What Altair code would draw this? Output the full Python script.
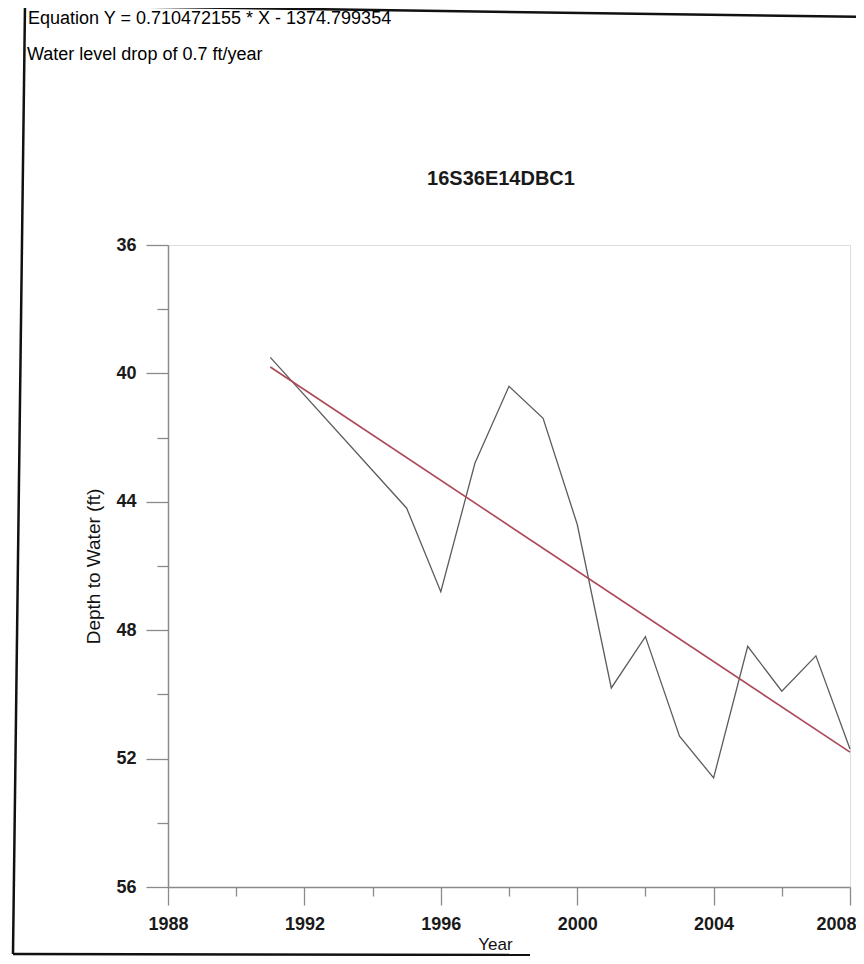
import altair as alt
import pandas as pd

# Observed depth to water (ft) by year
years = [1991, 1995, 1996, 1997, 1998, 1999, 2000, 2001, 2002, 2003, 2004, 2005, 2006, 2007, 2008]
depth = [39.5, 44.2, 46.8, 42.8, 40.4, 41.4, 44.7, 49.8, 48.2, 51.3, 52.6, 48.5, 49.9, 48.8, 51.7]

# Regression line end points
fit_years = [1991, 2008]
fit_depth = [39.8, 51.8]

x_ticks = list(range(1988, 2009, 2))
y_ticks = list(range(36, 57, 2))

title_text = "16S36E14DBC1"
header_lines = ["Equation Y = 0.710472155 * X - 1374.799354", "Water level drop of 0.7 ft/year"]

FONT = "Liberation Sans"
W, H = 682, 642

obs = pd.DataFrame({"Year": years, "Depth": depth})
fit = pd.DataFrame({"Year": fit_years, "Depth": fit_depth})

xscale = alt.Scale(domain=[1988, 2008], nice=False, zero=False)
yscale = alt.Scale(domain=[36, 56], nice=False, zero=False, reverse=True)

xaxis = alt.Axis(
    values=x_ticks, format="d", labelFlush=False, labelOverlap=False,
    labelExpr="datum.value % 4 == 0 ? datum.value : ''",
    labelOffset={"condition": {"test": "datum.value == 2008", "value": -14}, "value": 0},
    tickSize={"condition": {"test": "datum.value % 4 == 0", "value": 18}, "value": 9},
    labelPadding=10, labelFontSize=18, labelFont=FONT, labelFontWeight="bold", labelColor="#1a1a1a",
    title="Year", titleFont=FONT, titleFontSize=17, titleFontWeight="normal",
    titleColor="#111", titleX=327, titleY=57, titleBaseline="middle",
    grid=False, domainColor="#8a8a8a", domainWidth=1.5, tickColor="#8a8a8a", tickWidth=1.3,
)
yaxis = alt.Axis(
    values=y_ticks, labelFlush=False, labelOverlap=False,
    labelExpr="datum.value % 4 == 0 ? datum.value : ''",
    tickSize={"condition": {"test": "datum.value % 4 == 0", "value": 22}, "value": 11},
    labelPadding=10, labelFontSize=18, labelFont=FONT, labelFontWeight="bold", labelColor="#1a1a1a",
    title="Depth to Water (ft)", titleFont=FONT, titleFontSize=19, titleFontWeight="normal",
    titleColor="#111", titlePadding=12,
    grid=False, domainColor="#8a8a8a", domainWidth=1.5, tickColor="#8a8a8a", tickWidth=1.3,
)

data_line = alt.Chart(obs).mark_line(color="#5c5c5c", strokeWidth=1.3).encode(
    x=alt.X("Year:Q", scale=xscale, axis=xaxis),
    y=alt.Y("Depth:Q", scale=yscale, axis=yaxis),
)
fit_line = alt.Chart(fit).mark_line(color="#ad4658", strokeWidth=1.6).encode(
    x=alt.X("Year:Q", scale=xscale),
    y=alt.Y("Depth:Q", scale=yscale),
)

one = alt.Data(values=[{}])
title_mark = alt.Chart(one).mark_text(
    text=title_text, align="center", baseline="alphabetic", font=FONT, fontSize=20,
    fontWeight="bold", color="#1a1a1a"
).encode(x=alt.value(333), y=alt.value(-60))
header1 = alt.Chart(one).mark_text(
    text=header_lines[0], align="left", baseline="alphabetic", font=FONT, fontSize=18, color="#000"
).encode(x=alt.value(-140), y=alt.value(-221))
header2 = alt.Chart(one).mark_text(
    text=header_lines[1], align="left", baseline="alphabetic", font=FONT, fontSize=18, color="#000"
).encode(x=alt.value(-141), y=alt.value(-185))

frame_left = alt.Chart(one).mark_rule(color="#111", strokeWidth=2.5).encode(
    x=alt.value(-143), y=alt.value(-240), x2=alt.value(-155), y2=alt.value(709))
frame_top = alt.Chart(one).mark_rule(color="#111", strokeWidth=2.5).encode(
    x=alt.value(-143), y=alt.value(-240), x2=alt.value(700), y2=alt.value(-228))
frame_bottom = alt.Chart(one).mark_rule(color="#111", strokeWidth=2.5).encode(
    x=alt.value(-155), y=alt.value(709), x2=alt.value(362), y2=alt.value(710))

chart = alt.layer(
    data_line, fit_line, title_mark, header1, header2, frame_left, frame_top, frame_bottom
).properties(
    width=W, height=H,
    autosize=alt.AutoSizeParams(type="none"),
    padding={"left": 160, "top": 237, "right": 6, "bottom": 69},
).configure_view(stroke=None).configure(background="white")

chart.save("out.html", embed_options={"renderer": "svg", "actions": False})
